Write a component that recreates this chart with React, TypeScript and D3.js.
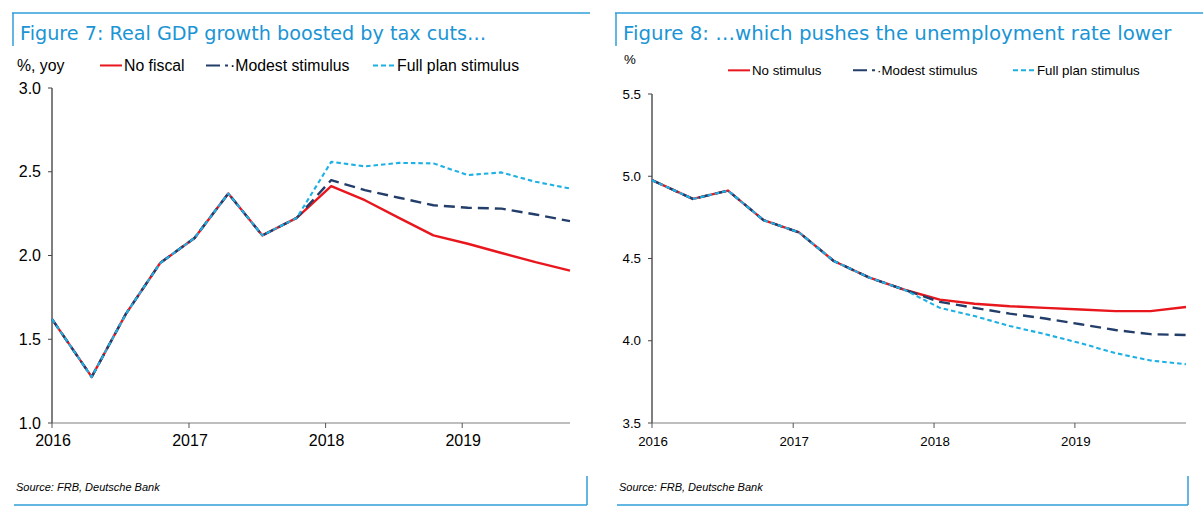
import React from "react";
import * as d3 from "d3";

// ---- shared x categories (quarterly observations) ----
const dates = [
  "2016-01-01", "2016-04-16", "2016-07-16", "2016-10-16",
  "2017-01-16", "2017-04-16", "2017-07-16", "2017-10-16",
  "2018-01-16", "2018-04-16", "2018-07-16", "2018-10-16",
  "2019-01-16", "2019-04-16", "2019-07-16", "2019-10-16",
];
const yearTicks = ["2016-01-01", "2017-01-01", "2018-01-01", "2019-01-01"];
const yearLabels = ["2016", "2017", "2018", "2019"];

// ---- Figure 7: Real GDP growth, %, yoy ----
const gdpNoFiscal = [1.62, 1.275, 1.65, 1.955, 2.105, 2.37, 2.12, 2.225, 2.414, 2.33, 2.225, 2.12, 2.07, 2.015, 1.96, 1.91];
const gdpModest = [1.62, 1.275, 1.65, 1.955, 2.105, 2.37, 2.12, 2.225, 2.45, 2.39, 2.345, 2.30, 2.285, 2.28, 2.245, 2.205];
const gdpFull = [1.62, 1.275, 1.65, 1.955, 2.105, 2.37, 2.12, 2.225, 2.559, 2.532, 2.553, 2.55, 2.48, 2.496, 2.44, 2.40];
const gdpTicks = [1.0, 1.5, 2.0, 2.5, 3.0];
const gdpLegend = ["No fiscal", "·Modest stimulus", "Full plan stimulus"];

// ---- Figure 8: Unemployment rate, % ----
const urNoStim = [4.976, 4.862, 4.913, 4.733, 4.659, 4.485, 4.385, 4.31, 4.25, 4.225, 4.21, 4.20, 4.19, 4.18, 4.18, 4.205];
const urModest = [4.976, 4.862, 4.913, 4.733, 4.659, 4.485, 4.385, 4.31, 4.236, 4.20, 4.165, 4.135, 4.10, 4.065, 4.04, 4.035];
const urFull = [4.976, 4.862, 4.913, 4.733, 4.659, 4.485, 4.385, 4.31, 4.20, 4.15, 4.09, 4.04, 3.985, 3.925, 3.88, 3.857];
const urTicks = [3.5, 4.0, 4.5, 5.0, 5.5];
const urLegend = ["No stimulus", "·Modest stimulus", "Full plan stimulus"];

const parse = d3.timeParse("%Y-%m-%d");
const xDates = dates.map((d) => parse(d) as Date);
const tickDates = yearTicks.map((d) => parse(d) as Date);

const BLUE = "#2f9fd8";
const TITLE = "#1b95d4";
const RED = "#e8161d";
const NAVY = "#233e6a";
const LIGHT = "#1db0e4";
const FONT = "'Liberation Sans', Arial, sans-serif";
const TITLE_FONT = "'DejaVu Sans', 'Liberation Sans', sans-serif";

type PanelProps = {
  left: number;
  title: string;
  titleSize: number;
  unit: string;
  unitX: number;
  unitY: number;
  series: number[][];
  legend: string[];
  legendX: number[];
  legendY: number;
  legendFont: number;
  yDomain: [number, number];
  yRange: [number, number];
  xRange: [number, number];
  yTicks: number[];
  tickFont: number;
  boxRight: number;
  topRight: number;
};

const styles = [
  { color: RED, width: 2.4, dash: "none" },
  { color: NAVY, width: 2.4, dash: "11,6" },
  { color: LIGHT, width: 2.1, dash: "4.5,3" },
];

function Panel(p: PanelProps) {
  const x = d3.scaleTime().domain([xDates[0], xDates[xDates.length - 1]]).range(p.xRange);
  const y = d3.scaleLinear().domain(p.yDomain).range(p.yRange);
  const line = d3
    .line<number>()
    .x((_, i) => x(xDates[i]))
    .y((v) => y(v));
  const x0 = p.xRange[0];
  const yb = p.yRange[0];
  return (
    <g>
      <line x1={p.left + 12} x2={p.topRight} y1={13} y2={13} stroke={BLUE} strokeWidth={1.5} />
      <line x1={p.left + 13} x2={p.left + 13} y1={13} y2={46} stroke={BLUE} strokeWidth={1.5} />
      <text x={p.left + 20} y={40} fontFamily={TITLE_FONT} fontSize={p.titleSize} fill={TITLE}>
        {p.title}
      </text>
      <text x={p.unitX} y={p.unitY} fontFamily={FONT} fontSize={p.legendFont} fill="#000">
        {p.unit}
      </text>
      {p.legend.map((name, i) => (
        <g key={name}>
          <line
            x1={p.legendX[i]}
            x2={p.legendX[i] + 22}
            y1={p.legendY - p.legendFont * 0.35}
            y2={p.legendY - p.legendFont * 0.35}
            stroke={styles[i].color}
            strokeWidth={2}
            strokeDasharray={i === 1 ? "14,5" : i === 2 ? "5,3" : "none"}
          />
          <text x={p.legendX[i] + 24} y={p.legendY} fontFamily={FONT} fontSize={p.legendFont} fill="#000">
            {name}
          </text>
        </g>
      ))}
      <line x1={x0} x2={x0} y1={p.yRange[1]} y2={yb} stroke="#000" strokeWidth={1} />
      {p.yTicks.map((t) => (
        <g key={t}>
          <line x1={x0 - 4} x2={x0} y1={y(t)} y2={y(t)} stroke="#444" strokeWidth={1} />
          <text
            x={x0 - 11}
            y={y(t) + p.tickFont * 0.35}
            textAnchor="end"
            fontFamily={FONT}
            fontSize={p.tickFont}
            fill="#000"
          >
            {t.toFixed(1)}
          </text>
        </g>
      ))}
      <line x1={x0} x2={p.xRange[1]} y1={yb} y2={yb} stroke="#7f7f7f" strokeWidth={1.2} />
      {tickDates.map((d, i) => (
        <g key={yearLabels[i]}>
          <line x1={x(d)} x2={x(d)} y1={yb} y2={yb + 5} stroke="#555" strokeWidth={1} />
          <text
            x={x(d) + 1}
            y={yb + 23}
            textAnchor="middle"
            fontFamily={FONT}
            fontSize={p.tickFont}
            fill="#000"
          >
            {yearLabels[i]}
          </text>
        </g>
      ))}
      {p.series.map((s, i) => (
        <path
          key={i}
          d={line(s) || ""}
          fill="none"
          stroke={styles[i].color}
          strokeWidth={styles[i].width}
          strokeDasharray={styles[i].dash}
          strokeLinejoin="round"
        />
      ))}
      <text x={p.left + 16} y={491} fontFamily={FONT} fontSize={11} fontStyle="italic" fill="#000">
        Source: FRB, Deutsche Bank
      </text>
      <line x1={p.left + 14} x2={p.boxRight} y1={505} y2={505} stroke={BLUE} strokeWidth={1.5} />
      <line x1={p.boxRight} x2={p.boxRight} y1={476} y2={505} stroke={BLUE} strokeWidth={1.5} />
    </g>
  );
}

export default function App() {
  return (
    <div style={{ position: "absolute", left: 0, top: 0, background: "#fff" }}>
      <svg width={1203} height={509} style={{ display: "block" }}>
        <rect width={1203} height={509} fill="#fff" />
        <Panel
          left={0}
          title="Figure 7: Real GDP growth boosted by tax cuts…"
          titleSize={19.2}
          unit="%, yoy"
          unitX={17}
          unitY={71}
          series={[gdpNoFiscal, gdpModest, gdpFull]}
          legend={gdpLegend}
          legendX={[100, 206, 373]}
          legendY={71}
          legendFont={15.8}
          yDomain={[1, 3]}
          yRange={[423, 88]}
          xRange={[52, 570]}
          yTicks={gdpTicks}
          tickFont={16}
          boxRight={587}
          topRight={590}
        />
        <Panel
          left={603}
          title="Figure 8: …which pushes the unemployment rate lower"
          titleSize={19.8}
          unit="%"
          unitX={624}
          unitY={64}
          series={[urNoStim, urModest, urFull]}
          legend={urLegend}
          legendX={[728, 853, 1013]}
          legendY={75}
          legendFont={13.3}
          yDomain={[3.5, 5.5]}
          yRange={[423, 94]}
          xRange={[652, 1186]}
          yTicks={urTicks}
          tickFont={13.3}
          boxRight={1188}
          topRight={1203}
        />
      </svg>
    </div>
  );
}
